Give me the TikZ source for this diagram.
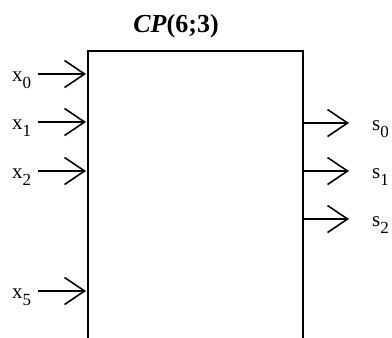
\documentclass[tikz,border=0pt]{standalone}
\usepackage{fontspec}
\setmainfont{Liberation Serif}
\usetikzlibrary{arrows.meta}
\newcommand\sublbl[2]{#1\raisebox{-7pt}{\fontsize{17}{17}\selectfont #2}}
\tikzset{
  arr/.style={line width=1.6pt,-{Straight Barb[length=20pt,width=27pt,line width=1.6pt]}},
  boxline/.style={line width=1.8pt},
  lbl/.style={font=\fontsize{21}{21}\selectfont, inner sep=0pt},
  ttl/.style={font=\fontsize{26}{26}\selectfont\bfseries, inner sep=0pt}
}
\begin{document}
\begin{tikzpicture}[x=1pt,y=-1pt]
\useasboundingbox (0,0) rectangle (392,338);
% box (open at the bottom)
\coordinate (bl) at (88,338);
\coordinate (tl) at (88,51);
\coordinate (tr) at (303,51);
\coordinate (br) at (303,338);
\draw[boxline] (bl) -- (tl) -- (tr) -- (br);
\node[ttl, anchor=base] (title) at (176,32) {\textit{CP}(6;3)};
% inputs
\foreach \n/\y in {0/74,1/122,2/171,5/291}{
  \coordinate (a\n) at (38,\y);
  \coordinate (i\n) at (86,\y);
  \node[lbl, anchor=base west] (x\n) at (12,\y+7) {\sublbl{x}{\n}};
  \draw[arr] (a\n) -- (i\n);
}
% outputs
\foreach \n/\y in {0/123,1/171,2/219}{
  \coordinate (o\n) at (303,\y);
  \coordinate (e\n) at (349,\y);
  \node[lbl, anchor=base west] (s\n) at (372,\y+7) {\sublbl{s}{\n}};
  \draw[arr] (o\n) -- (e\n);
}
\end{tikzpicture}
\end{document}
